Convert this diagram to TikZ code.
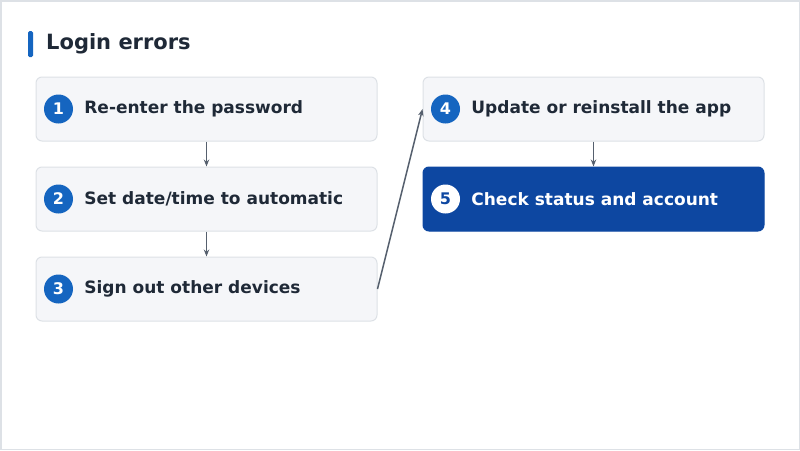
\documentclass[tikz,border=0pt]{standalone}
\usepackage{fontspec}
\setmainfont{DejaVu Sans}
\usetikzlibrary{positioning,arrows.meta}
\definecolor{boxFill}{HTML}{F5F6F9}
\definecolor{boxLine}{HTML}{DDE1E6}
\definecolor{stepBlue}{HTML}{1565C0}
\definecolor{darkBlue}{HTML}{0D47A1}
\definecolor{linkGray}{HTML}{56606E}
\definecolor{textDark}{HTML}{1F2937}
\newcommand{\stepBox}[4]{%%
  \node[boxStyle] (#1) at (#2) {};
  \node[numStyle] (#1n) at ([xshift=23pt]#1.west) {#3};
  \node[labelStyle,right=11pt of #1n.east,anchor=west] (#1t) {#4};
}
\begin{document}
\begin{tikzpicture}[x=1pt,y=-1pt,%%
  boxStyle/.style={draw=boxLine,fill=boxFill,rounded corners=6pt,line width=1pt,minimum width=341pt,minimum height=64pt,inner sep=0pt},%%
  numStyle/.style={circle,fill=stepBlue,text=white,minimum size=29pt,inner sep=0pt,font=\fontsize{16}{18}\selectfont\bfseries},%%
  labelStyle/.style={text=textDark,inner sep=0pt,font=\fontsize{17}{20}\selectfont\bfseries},%%
  linkStyle/.style={-{Stealth[length=7pt,width=5.5pt]},draw=linkGray,line width=1.5pt}%%
]
\useasboundingbox (0,0) rectangle (800,450);
\draw[boxLine,line width=1.5pt] (0.75,0.75) rectangle (799.25,449.25);
%%
%% Title.
\fill[stepBlue,rounded corners=1.5pt] (28,31) rectangle (33,57);
\node[anchor=west,inner sep=0pt,text=textDark,font=\fontsize{21}{24}\selectfont\bfseries] (title) at (46,44) {Login errors};
%%
%% Steps.
\stepBox{s1}{206.5,109}{1}{Re-enter the password}
\stepBox{s2}{206.5,199}{2}{Set date/time to automatic}
\stepBox{s3}{206.5,289}{3}{Sign out other devices}
\stepBox{s4}{593.5,109}{4}{Update or reinstall the app}
\node[boxStyle,draw=darkBlue,fill=darkBlue] (s5) at (593.5,199) {};
\node[numStyle,fill=white,text=darkBlue] (s5n) at ([xshift=23pt]s5.west) {5};
\node[labelStyle,text=white,right=11pt of s5n.east,anchor=west] (s5t) {Check status and account};
%%
%% Links.
\draw[linkStyle] (s1.south) -- (s2.north);
\draw[linkStyle] (s2.south) -- (s3.north);
\draw[linkStyle] (s3.east) -- (s4.west);
\draw[linkStyle] (s4.south) -- (s5.north);
\end{tikzpicture}
\end{document}
